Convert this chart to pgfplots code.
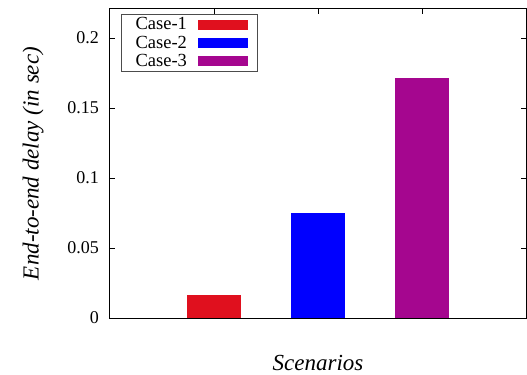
\documentclass[border=0pt]{standalone}
\usepackage{pgfplots}
\pgfplotsset{compat=1.18}
\usepackage{fontspec}
\setmainfont{Liberation Serif}
\definecolor{cred}{RGB}{224,16,30}
\definecolor{cblue}{RGB}{0,0,255}
\definecolor{cpurple}{RGB}{165,6,143}
\begin{document}
\begin{tikzpicture}
\begin{axis}[
  scale only axis,
  width=416bp, height=309bp,
  at={(0,0)}, anchor=south west,
  xmin=0, xmax=4, ymin=0, ymax=0.2207,
  xtick={1,2,3}, xticklabels={},
  ytick={0,0.05,0.1,0.15,0.2},
  yticklabels={0,0.05,0.1,0.15,0.2},
  tick align=inside, major tick length=5bp,
  tick style={black, line width=0.8bp},
  axis line style={line width=1bp},
  /pgf/number format/assume math mode=true,
  yticklabel style={font=\fontsize{18bp}{20bp}\selectfont, inner sep=0pt, xshift=-11bp},
  ylabel={\itshape End-to-end delay (in sec)},
  ylabel style={font=\fontsize{23bp}{26bp}\selectfont, at={(axis description cs:-0.185,0.5)}, anchor=center},
  xlabel={\itshape Scenarios},
  xlabel style={font=\fontsize{23bp}{26bp}\selectfont, at={(axis description cs:0.5,-0.1715)}, anchor=base},
  legend plot pos=right,
  legend cell align=right,
  legend style={at={(axis description cs:0.0257,0.985)}, anchor=north west,
    draw=black!70, line width=0.8bp, inner xsep=9bp, inner ysep=1.5bp, row sep=0.3bp,
    font=\fontsize{18.5bp}{20bp}\selectfont,
    /tikz/every odd column/.append style={column sep=9.5bp},
    nodes={inner sep=1.5bp, text height=12.8bp, text depth=2.2bp}},
  legend image code/.code={\fill[#1, draw=none] (0bp,-5bp) rectangle (50bp,5bp);},
]
\addplot[ybar, bar width=0.51, bar shift=0pt, fill=cred, draw=none] coordinates {(1,0.0164)};
\addlegendentry{\hspace*{4bp}Case-1}
\addplot[ybar, bar width=0.51, bar shift=0pt, fill=cblue, draw=none] coordinates {(2,0.0750)};
\addlegendentry{\hspace*{4bp}Case-2}
\addplot[ybar, bar width=0.51, bar shift=0pt, fill=cpurple, draw=none] coordinates {(3,0.1713)};
\addlegendentry{\hspace*{4bp}Case-3}
\end{axis}
\pgfresetboundingbox
\path[use as bounding box] (-110bp,-57bp) rectangle (417bp,318bp);
\end{tikzpicture}
\end{document}
